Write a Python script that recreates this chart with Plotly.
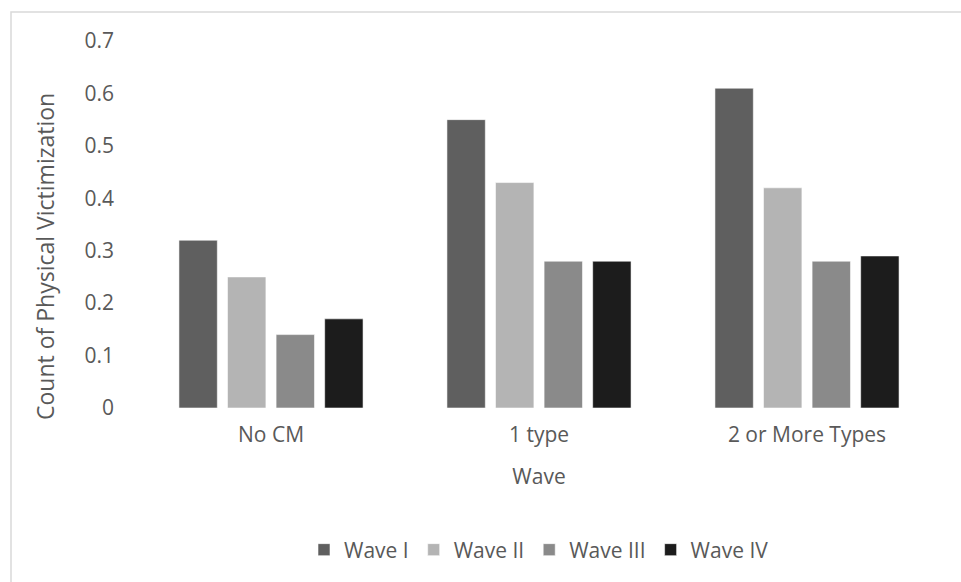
import plotly.graph_objects as go

# Data
categories = ["No CM", "1 type", "2 or More Types"]
series_names = ["Wave I", "Wave II", "Wave III", "Wave IV"]
wave_1 = [0.32, 0.55, 0.61]
wave_2 = [0.25, 0.43, 0.42]
wave_3 = [0.14, 0.28, 0.28]
wave_4 = [0.17, 0.28, 0.29]
y_ticks = [0, 0.1, 0.2, 0.3, 0.4, 0.5, 0.6, 0.7]
y_tick_labels = ["0", "0.1", "0.2", "0.3", "0.4", "0.5", "0.6", "0.7"]

colors = ["#5f5f5f", "#b4b4b4", "#8a8a8a", "#1c1c1c"]
FONT = "Open Sans"
TXT = "#595959"

fig = go.Figure()
for name, vals, col in zip(series_names, [wave_1, wave_2, wave_3, wave_4], colors):
    fig.add_trace(go.Bar(
        x=categories, y=vals, name=name,
        marker=dict(color=col, line=dict(color="rgba(255,255,255,0.55)", width=1)),
    ))

W, H = 961, 582
L, R, T, B = 137, 20, 41, 174
pw, ph = W - L - R, H - T - B

def px_x(x):
    return (x - L) / pw

def px_y(y):
    return (H - B - y) / ph

fig.update_layout(
    width=W, height=H,
    margin=dict(l=L, r=R, t=T, b=B, pad=0),
    paper_bgcolor="white", plot_bgcolor="white",
    barmode="group", bargap=0.275, bargroupgap=0.21,
    font=dict(family=FONT, size=21, color=TXT),
    showlegend=True,
    legend=dict(
        orientation="h", x=0.5, xanchor="center",
        y=px_y(550), yanchor="middle",
        font=dict(family=FONT, size=21, color=TXT),
        itemwidth=30, tracegroupgap=0,
    ),
    xaxis=dict(
        showgrid=False, showline=False, zeroline=False, ticks="",
        tickfont=dict(family=FONT, size=21, color=TXT),
        ticklabelstandoff=12,
        title=dict(text="Wave", font=dict(family=FONT, size=21, color=TXT), standoff=22),
    ),
    yaxis=dict(
        range=[0, 0.7], tickvals=y_ticks, ticktext=y_tick_labels,
        showgrid=False, showline=False, zeroline=False, ticks="",
        tickfont=dict(family=FONT, size=21, color=TXT),
        ticklabelstandoff=22,
    ),
    shapes=[dict(
        type="rect", xref="paper", yref="paper",
        x0=px_x(11), x1=px_x(990), y0=px_y(610), y1=px_y(12),
        line=dict(color="#d9d9d9", width=1.5), fillcolor="rgba(0,0,0,0)",
        layer="below",
    )],
    annotations=[dict(
        text="Count of Physical Victimization", textangle=-90,
        xref="paper", yref="paper", x=px_x(45), y=px_y(257),
        xanchor="center", yanchor="middle", showarrow=False,
        font=dict(family=FONT, size=23, color=TXT),
    )],
)

fig.write_html("out.html")
